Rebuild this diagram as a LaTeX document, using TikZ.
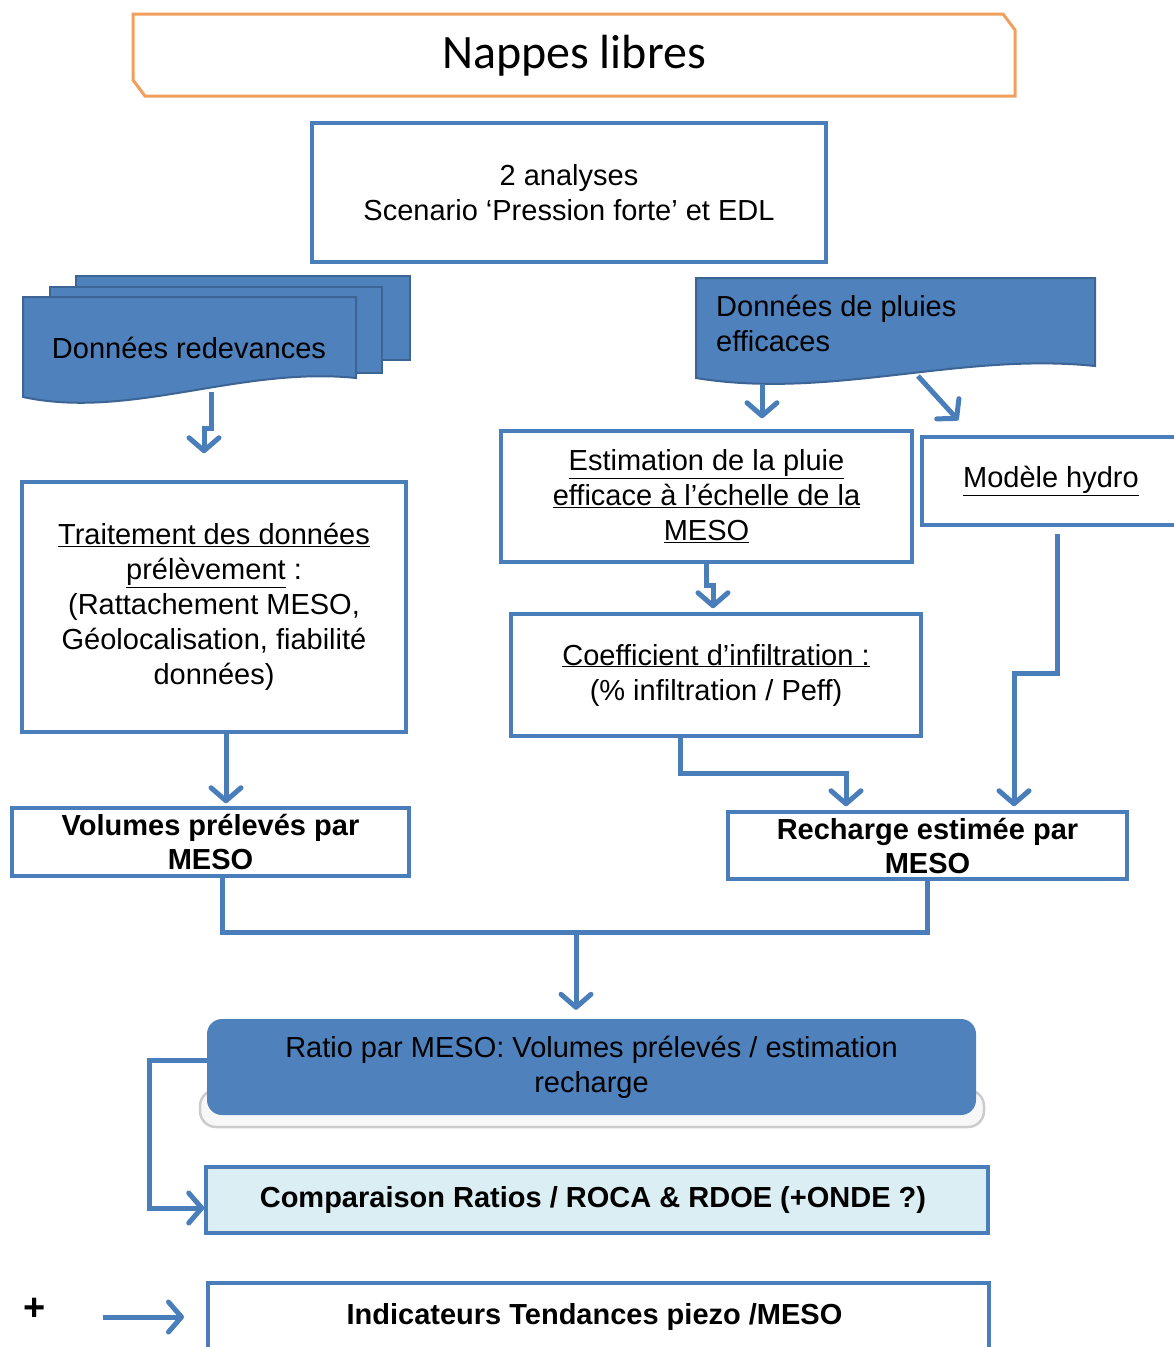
\documentclass[tikz,border=0pt]{standalone}
\usepackage{fontspec}
\setmainfont{Liberation Sans}
\newfontfamily\titlefont{Carlito}
\usetikzlibrary{arrows.meta}
\definecolor{boxblue}{HTML}{4A7EBB}
\definecolor{docblue}{HTML}{4F81BD}
\definecolor{docedge}{HTML}{3C6494}
\definecolor{titleorange}{HTML}{F0A05C}
\definecolor{palecyan}{HTML}{DBEEF4}

\begin{document}
\begin{tikzpicture}[x=1pt,y=-1pt,
    txt/.style={font=\fontsize{29}{35}\selectfont, align=center, inner sep=0pt},
    bold/.style={font=\bfseries\fontsize{29}{34}\selectfont},
    bbox/.style={draw=boxblue, line width=3.5pt, fill=white, txt},
    doc/.style={fill=docblue, draw=docedge, line width=2pt},
    arr/.style={draw=boxblue, line width=5pt, -{Straight Barb[length=13pt,width=30pt,round]}},
    link/.style={draw=boxblue, line width=5pt}]
    \useasboundingbox (0,0) rectangle (1174,1347);

    \draw [titleorange, line width=3pt, fill=white] (133,14) -- (1003,14) -- (1015,30)
        -- (1015,96) -- (145,96) -- (133,80) -- cycle;
    \node [font=\titlefont\fontsize{48}{50}\selectfont] (title) at (574,56) {Nappes libres};

    \node [bbox, minimum width=514pt, minimum height=139pt] (analyses) at (569,192.5) {
        2 analyses\\
        Scenario ‘Pression forte’ et EDL
    };

    \draw [doc] (76,276) rectangle (410,360);
    \draw [doc] (50,287) rectangle (382,373);
    \draw [doc] (23,297) -- (356,297) -- (356,378)
        .. controls (240,366) and (130,420) .. (23,397) -- cycle;
    \node [txt] (redev) at (189,348) {Données redevances};
    \coordinate (rdout) at (211,392);

    \draw [doc] (696,278) -- (1095,278) -- (1095,366)
        .. controls (960,352) and (830,400) .. (696,378) -- cycle;
    \node [txt, align=left, anchor=west] (pluies) at (716,323) {
        Données de pluies\\
        efficaces
    };
    \coordinate (pdout) at (762,384);
    \coordinate (pdhydro) at (918,376);

    \node [bbox, minimum width=384pt, minimum height=250pt] (trait) at (214,607) {
        \underline{Traitement des données}\\
        \underline{prélèvement} :\\
        (Rattachement MESO,\\
        Géolocalisation, fiabilité\\
        données)
    };
    \node [bbox, bold, minimum width=397pt, minimum height=68pt] (vol) at (210.5,842) {
        Volumes prélevés par\\
        MESO
    };

    \node [bbox, minimum width=411pt, minimum height=131pt] (est) at (706.5,496.5) {
        \underline{Estimation de la pluie}\\
        \underline{efficace à l’échelle de la}\\
        \underline{MESO}
    };
    \node [bbox, minimum width=266pt, minimum height=88pt] (mod) at (1055,481) {
        \underline{Modèle hydro}
    };
    \node [bbox, minimum width=410pt, minimum height=122pt] (coef) at (716,675) {
        \underline{Coefficient d’infiltration :}\\
        (\% infiltration / Peff)
    };
    \node [bbox, bold, minimum width=399pt, minimum height=67pt] (rech) at (927.5,845.5) {
        Recharge estimée par\\
        MESO
    };

    \draw [gray!40, line width=2.5pt, fill=gray!6, rounded corners=16pt] (200,1090) rectangle (984,1127);
    \node [txt, fill=docblue, rounded corners=15pt, text=black,
        minimum width=769pt, minimum height=96pt] (ratio) at (591.5,1067) {
        Ratio par MESO: Volumes prélevés / estimation\\
        recharge
    };
    \node [bbox, bold, fill=palecyan, minimum width=782pt, minimum height=66pt] (comp) at (597,1200) {
        Comparaison Ratios / ROCA \& RDOE (+ONDE ?)
    };
    \node [bbox, bold, minimum width=781pt, minimum height=68pt] (indic) at (598.5,1317) {
        Indicateurs Tendances piezo /MESO
    };
    \node [font=\bfseries\fontsize{38}{40}\selectfont] (plus) at (35,1309) {+};
    \coordinate (plusa) at (103,1317);
    \coordinate (plusb) at (184,1317);

    \draw [arr, shorten >=27pt] (rdout) -- ++(0,36) -| ([xshift=-10pt]trait.north);
    \draw [arr, shorten >=3pt] ([xshift=12pt]trait.south) -- ([xshift=12pt]trait.south |- vol.north);
    \draw [arr, shorten >=11pt] (pdout) -- (pdout |- est.north);
    \draw [arr] (pdhydro) -- ([xshift=38pt,yshift=15pt]mod.north west);
    \draw [arr, shorten >=4pt] (est.south) -- ++(0,22) -| ([xshift=-3pt]coef.north);
    \draw [arr, shorten >=4pt] ([xshift=-36pt]coef.south) -- ++(0,36) -| ([xshift=-81.5pt]rech.north);
    \draw [arr, shorten >=4pt] ([xshift=2pt,yshift=-7pt]mod.south) -- ++(0,140) -| ([xshift=86.5pt]rech.north);

    \coordinate (join) at (576,932);
    \draw [link] ([xshift=11.5pt]vol.south) |- (join);
    \draw [link] (rech.south) |- (join);
    \draw [arr, shorten >=9pt] (join) -- (join |- ratio.north);

    \draw [arr] ([yshift=7pt]ratio.west) -- ++(-57,0) |- ([yshift=-8pt]comp.west);
    \draw [arr] (plusa) -- (plusb);
\end{tikzpicture}
\end{document}
